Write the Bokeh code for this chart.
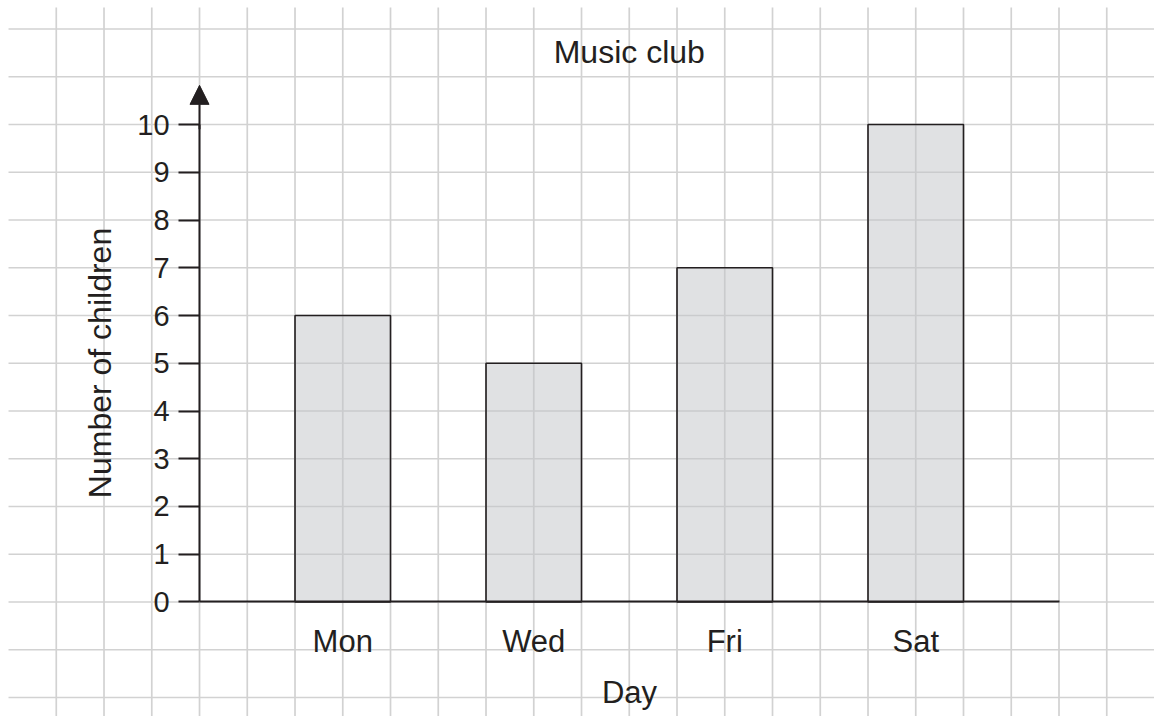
from bokeh.plotting import figure
from bokeh.models import (LinearAxis, FixedTicker, Arrow, NormalHead, Label)
from bokeh.embed import file_html
from bokeh.resources import INLINE

# ---- data ----
days = ["Mon", "Wed", "Fri", "Sat"]
children = [6, 5, 7, 10]
y_ticks = [0, 1, 2, 3, 4, 5, 6, 7, 8, 9, 10]
title_text = "Music club"
x_label = "Day"
y_label = "Number of children"

# layout: one grid square = one unit; bars every 4 squares, 2 squares wide
xs = [3 + 4 * i for i in range(len(days))]

INK = "#231f20"
GRID = "#d2d2d2"
FONT = "Liberation Sans"

p = figure(width=1154, height=716, x_range=(-4.168, 20.0), y_range=(-2.398, 12.597),
           min_border=0, toolbar_location=None, output_backend="svg",
           x_axis_type=None, y_axis_type=None)
p.outline_line_color = None
p.background_fill_color = "white"
p.border_fill_color = "white"

# squared paper grid (style only)
gx = list(range(-3, 20))
gy = list(range(-2, 13))
p.segment(x0=gx, y0=[-3.0] * len(gx), x1=gx, y1=[12.45] * len(gx),
          line_color=GRID, line_width=1.7, level="underlay")
p.segment(x0=[-4.0] * len(gy), y0=gy, x1=[21.0] * len(gy), y1=gy,
          line_color=GRID, line_width=1.7, level="underlay")

# bars
p.vbar(x=xs, top=children, bottom=0, width=2,
       fill_color="#c1c3c7", fill_alpha=0.5,
       line_color=INK, line_width=1.6)

# y axis
yaxis = LinearAxis(fixed_location=0, bounds=(0, 10),
                   ticker=FixedTicker(ticks=y_ticks))
yaxis.axis_line_color = INK
yaxis.axis_line_width = 2
yaxis.major_tick_line_color = INK
yaxis.major_tick_line_width = 2
yaxis.major_tick_out = 21
yaxis.major_tick_in = 0
yaxis.minor_tick_line_color = None
yaxis.major_label_standoff = 9
yaxis.major_label_text_font = FONT
yaxis.major_label_text_font_size = "29px"
yaxis.major_label_text_color = INK
yaxis.axis_label = y_label
yaxis.axis_label_text_font = FONT
yaxis.axis_label_text_font_size = "32px"
yaxis.axis_label_text_font_style = "normal"
yaxis.axis_label_text_color = INK
yaxis.axis_label_standoff = 16
p.add_layout(yaxis, "left")

# x axis
xaxis = LinearAxis(fixed_location=0, bounds=(0, 18),
                   ticker=FixedTicker(ticks=xs))
xaxis.major_label_overrides = {x: d for x, d in zip(xs, days)}
xaxis.axis_line_color = INK
xaxis.axis_line_width = 2
xaxis.major_tick_line_color = None
xaxis.major_tick_out = 0
xaxis.major_tick_in = 0
xaxis.minor_tick_line_color = None
xaxis.major_label_standoff = 22
xaxis.major_label_text_font = FONT
xaxis.major_label_text_font_size = "31px"
xaxis.major_label_text_color = INK
xaxis.axis_label = x_label
xaxis.axis_label_text_font = FONT
xaxis.axis_label_text_font_size = "31px"
xaxis.axis_label_text_font_style = "normal"
xaxis.axis_label_text_color = INK
xaxis.axis_label_standoff = 13
p.add_layout(xaxis, "below")

# arrow head on the y axis
p.add_layout(Arrow(end=NormalHead(size=19, fill_color=INK, line_color=INK, line_width=1),
                   x_start=0, y_start=9.9, x_end=0, y_end=10.82,
                   line_color=INK, line_width=2))

# title
p.add_layout(Label(x=9, y=11.52, text=title_text, text_align="center",
                   text_baseline="alphabetic", text_font=FONT,
                   text_font_size="32px", text_color=INK))

open("out.html", "w").write(file_html(p, INLINE))
